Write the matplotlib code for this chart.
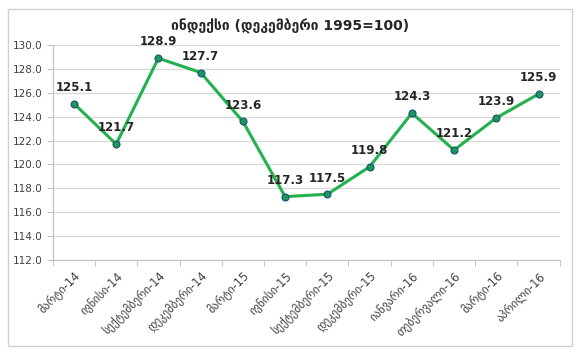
import matplotlib.pyplot as plt
from matplotlib.patches import Rectangle
import numpy as np

months = ['მარტი-14', 'ივნისი-14', 'სექტემბერი-14', 'დეკემბერი-14',
          'მარტი-15', 'ივნისი-15', 'სექტემბერი-15', 'დეკემბერი-15',
          'იანვარი-16', 'თებერვალი-16', 'მარტი-16', 'აპრილი-16']
index = [125.1, 121.7, 128.9, 127.7, 123.6, 117.3, 117.5, 119.8,
         124.3, 121.2, 123.9, 125.9]
title = 'ინდექსი (დეკემბერი 1995=100)'

plt.rcParams['font.family'] = ['DejaVu Sans']

fig = plt.figure(figsize=(5.8, 3.55), dpi=100)
fig.patches.append(Rectangle((0.014, 0.025), 0.972, 0.95, transform=fig.transFigure,
                             fill=False, edgecolor='#d0d0d0', lw=1))
ax = fig.add_axes([0.091, 0.268, 0.874, 0.605])

x = np.arange(len(months))
ax.plot(x, index, color='#22b14c', lw=2.2, zorder=3,
        marker='o', markersize=5, markerfacecolor='#1a9a5a',
        markeredgecolor='#1f4e79', markeredgewidth=0.8)
for xi, v in zip(x, index):
    ax.annotate(f'{v:.1f}', (xi, v), xytext=(0, 7), textcoords='offset points',
                ha='center', va='bottom', fontsize=8.5, fontweight='bold',
                color='#262626')

ax.set_xlim(-0.5, len(months) - 0.5)
ax.set_ylim(112, 130)
ax.set_yticks(np.arange(112, 130.1, 2))
ax.set_yticklabels([f'{t:.1f}' for t in np.arange(112, 130.1, 2)])
ax.grid(axis='y', color='#d9d9d9', lw=0.9)
ax.set_axisbelow(True)

ax.set_xticks(x)
ax.set_xticklabels(months, rotation=45, ha='right', rotation_mode='anchor')
ax.set_xticks(np.arange(-0.5, len(months)), minor=True)
ax.tick_params(axis='x', which='major', length=0, pad=7, labelsize=8.3, colors='#404040')
ax.tick_params(axis='x', which='minor', length=4, color='#bfbfbf')
ax.tick_params(axis='y', length=4, color='#bfbfbf', labelsize=7.5, colors='#404040')

for s in ['top', 'right']:
    ax.spines[s].set_visible(False)
ax.spines['left'].set_color('#bfbfbf')
ax.spines['bottom'].set_color('#bfbfbf')

fig.text(0.5, 0.925, title, ha='center', va='center', fontsize=10,
         fontweight='bold', color='#262626')

fig.savefig('out.png', dpi=100)
